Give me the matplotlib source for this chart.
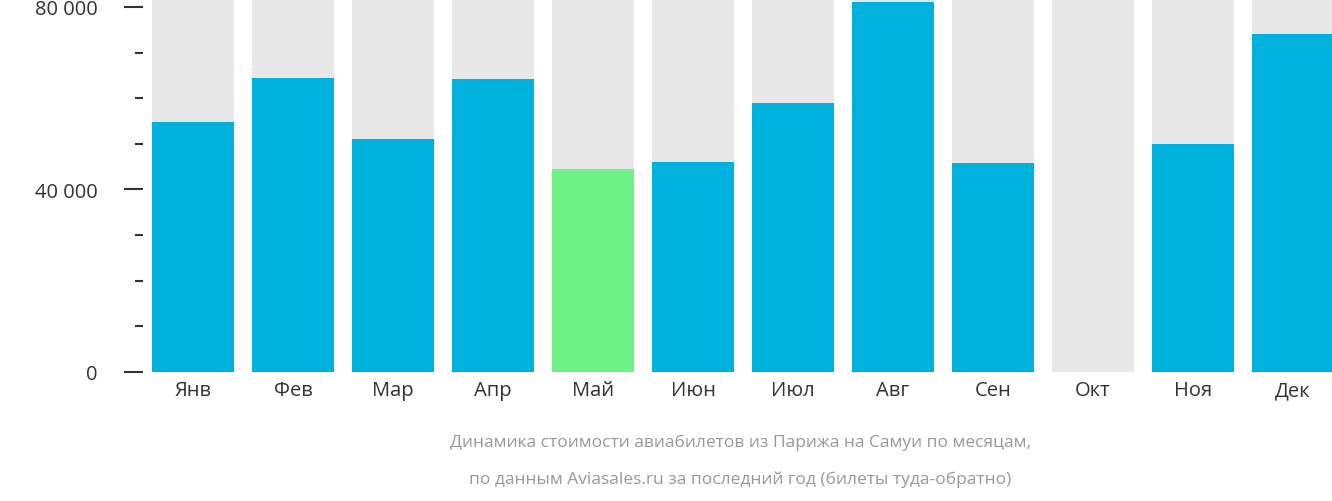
import matplotlib
matplotlib.use('Agg')
import matplotlib.pyplot as plt

months = ['Янв', 'Фев', 'Мар', 'Апр', 'Май', 'Июн', 'Июл', 'Авг', 'Сен', 'Окт', 'Ноя', 'Дек']
prices = [54800, 64400, 51100, 64200, 44500, 46000, 59000, 81100, 45800, 0, 50000, 74100]
cheapest = 'Май'
ymax = 81750

plt.rcParams['font.family'] = 'Open Sans'
fig = plt.figure(figsize=(13.32, 5.02), dpi=100)
ax = fig.add_axes([143 / 1332, (502 - 373) / 502, 1 - 143 / 1332, 373 / 502])

x = range(len(months))
ax.bar(x, [ymax] * len(months), width=0.82, color='#e8e8e8')
colors = ['#6ef287' if m == cheapest else '#00b0dd' for m in months]
ax.bar(x, prices, width=0.82, color=colors)

ax.set_xlim(-0.5, (1332 - 193) / 100)
ax.set_ylim(0, ymax)
ax.set_xticks(list(x))
ax.set_xticklabels(months, fontsize=14.5, color='#333333')
ax.tick_params(axis='x', length=0, pad=6)
ax.set_yticks([0, 40000, 80000])
ax.set_yticklabels(['0 ₽', '40 000 ₽', '80 000 ₽'], fontsize=14.5, color='#333333')
ax.set_yticks(range(0, 80001, 10000), minor=True)
ax.tick_params(axis='y', which='major', length=14, width=1.5, color='#333333', pad=6)
ax.tick_params(axis='y', which='minor', length=6, width=1.5, color='#333333')
for s in ax.spines.values():
    s.set_visible(False)

fig.text(0.556, 443 / 502, 'Динамика стоимости авиабилетов из Парижа на Самуи по месяцам,',
         ha='center', va='center', fontsize=12.5, color='#999999')
fig.text(0.556, 480 / 502, 'по данным Aviasales.ru за последний год (билеты туда-обратно)',
         ha='center', va='center', fontsize=12.5, color='#999999')
# fig.text y is from bottom
for t in fig.texts:
    t.set_y(1 - t.get_position()[1])

fig.savefig('out.png', dpi=100)
